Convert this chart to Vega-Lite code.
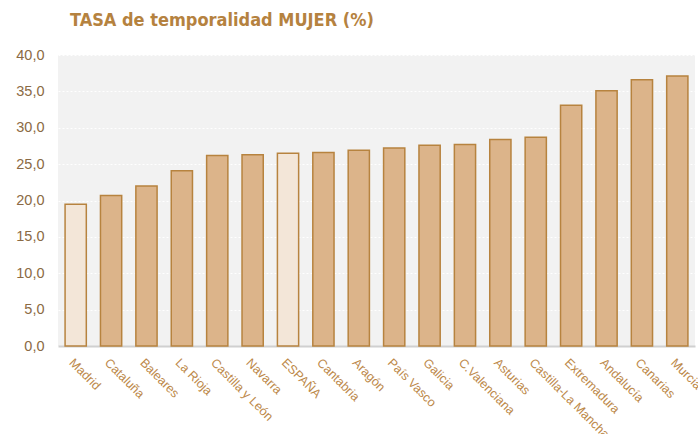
{
  "$schema": "https://vega.github.io/schema/vega-lite/v6.json",
  "width": 637,
  "height": 291,
  "autosize": {"type": "none"},
  "padding": {"left": 58, "top": 55, "right": 3, "bottom": 88},
  "background": "#ffffff",
  "title": {
    "text": "TASA de temporalidad MUJER (%)",
    "anchor": "start",
    "frame": "group",
    "orient": "top",
    "dx": 12,
    "offset": 17,
    "font": "DejaVu Sans Condensed, Liberation Sans",
    "fontSize": 18,
    "fontWeight": "bold",
    "color": "#B5823F"
  },
  "config": {
    "view": {"fill": "#F2F2F2", "stroke": null},
    "font": "Liberation Sans"
  },
  "data": {
    "values": [
      {"region": "Madrid", "tasa": 19.5},
      {"region": "Cataluña", "tasa": 20.7},
      {"region": "Baleares", "tasa": 22.0},
      {"region": "La Rioja", "tasa": 24.1},
      {"region": "Castilla y León", "tasa": 26.2},
      {"region": "Navarra", "tasa": 26.3},
      {"region": "ESPAÑA", "tasa": 26.5},
      {"region": "Cantabria", "tasa": 26.6},
      {"region": "Aragón", "tasa": 26.9},
      {"region": "País Vasco", "tasa": 27.2},
      {"region": "Galicia", "tasa": 27.6},
      {"region": "C.Valenciana", "tasa": 27.7},
      {"region": "Asturias", "tasa": 28.4},
      {"region": "Castilla-La Mancha", "tasa": 28.7},
      {"region": "Extremadura", "tasa": 33.1},
      {"region": "Andalucía", "tasa": 35.1},
      {"region": "Canarias", "tasa": 36.6},
      {"region": "Murcia", "tasa": 37.1}
    ]
  },
  "mark": {"type": "bar", "stroke": "#B7833F", "strokeWidth": 1.5},
  "encoding": {
    "x": {
      "field": "region",
      "type": "nominal",
      "sort": null,
      "scale": {"paddingInner": 0.4, "paddingOuter": 0.2},
      "axis": {
        "title": null,
        "labelAngle": 45,
        "labelAlign": "left",
        "labelBaseline": "top",
        "labelPadding": 10,
        "labelFontSize": 12.5,
        "labelColor": "#BC8849",
        "ticks": false,
        "domainColor": "#D0D0D0",
        "domainWidth": 2,
        "labelOverlap": false
      }
    },
    "y": {
      "field": "tasa",
      "type": "quantitative",
      "scale": {"domain": [0, 40], "nice": false},
      "axis": {
        "title": null,
        "values": [0, 5, 10, 15, 20, 25, 30, 35, 40],
        "labelExpr": "replace(format(datum.value, '.1f'), '.', ',')",
        "labelFontSize": 14.5,
        "labelColor": "#8B6A44",
        "labelPadding": 14,
        "ticks": false,
        "domain": false,
        "gridColor": "#FFFFFF",
        "gridDash": [2, 2],
        "gridWidth": 1
      }
    },
    "color": {
      "condition": {"test": "datum.region === 'Madrid' || datum.region === 'ESPAÑA'", "value": "#F3E6D8"},
      "value": "#DCB48A"
    }
  }
}
